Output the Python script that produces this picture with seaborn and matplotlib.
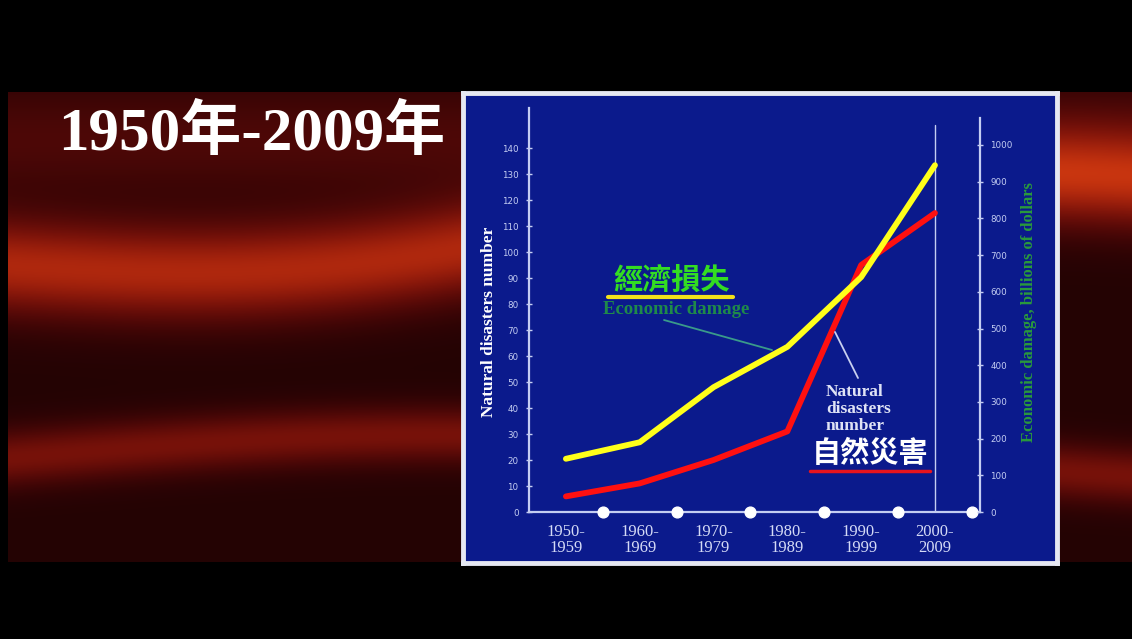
import numpy as np
import pandas as pd
import seaborn as sns
import matplotlib.pyplot as plt

# data
decades = ['1950-\n1959', '1960-\n1969', '1970-\n1979', '1980-\n1989', '1990-\n1999', '2000-\n2009']
disasters = [6, 11, 20, 31, 95, 115]          # left axis, number of natural disasters
damage = [145, 190, 340, 450, 640, 945]       # right axis, billions of dollars
left_ticks = list(range(0, 150, 10))
right_ticks = list(range(0, 1100, 100))

BLUE = '#0b1a8c'
AXC = '#c4cdf2'
W, H = 1132, 639


def fx(px):
    return px / W


def fy(py):
    return 1 - py / H


sns.set_style('white')
plt.rcParams['font.family'] = ['Liberation Serif', 'Noto Sans CJK TC', 'DejaVu Sans']

fig = plt.figure(figsize=(11.32, 6.39), dpi=100)
fig.patch.set_facecolor('black')

# dark red swirl background
bg = fig.add_axes([fx(8), fy(562), fx(1124), 470 / H])
yy, xx = np.mgrid[0:1:300j, 0:1:600j]
c1 = 0.37 - 0.17 * xx + 0.05 * np.sin(6 * xx)
c2 = 0.78 - 0.05 * np.sin(4 * xx)
inten = 0.1 + 0.75 * np.exp(-((yy - c1) / 0.1) ** 2) + 0.45 * np.exp(-((yy - c2) / 0.06) ** 2)
inten += 0.22 * np.exp(-((yy - 0.1) / 0.12) ** 2)
inten = np.clip(inten, 0, 1)
img = np.dstack([0.07 + 0.72 * inten, 0.01 + 0.2 * inten ** 2, 0.01 + 0.05 * inten])
bg.imshow(np.clip(img, 0, 1), aspect='auto', extent=[0, 1, 0, 1])
bg.axis('off')

# chart panel
panel = fig.add_axes([fx(463), fy(563), 594 / W, 470 / H])
panel.set_facecolor(BLUE)
panel.set_xticks([])
panel.set_yticks([])
for s in panel.spines.values():
    s.set_color('#e6e8f2')
    s.set_linewidth(3.5)

# title
fig.text(fx(58), fy(134), '1950年-2009年', color='white', fontsize=44, fontweight='bold',
         va='center', ha='left')

ax = fig.add_axes([fx(529), fy(512), fx(980 - 529), (512 - 108) / H])
ax.set_facecolor('none')
ax2 = ax.twinx()
ax2.set_facecolor('none')

x = list(range(len(decades)))
df = pd.DataFrame({'decade': x, 'disasters': disasters, 'damage': damage})

sns.lineplot(data=df, x='decade', y='disasters', ax=ax, color='#ff1010', lw=4.2,
             solid_capstyle='round', zorder=3)
sns.lineplot(data=df, x='decade', y='damage', ax=ax2, color='#ffff1a', lw=4.2,
             solid_capstyle='round', zorder=4)

ax.set_xlim(-0.5, 5.61)
ax.set_ylim(0, (512 - 108) / 2.6)
ax2.set_ylim(0, (512 - 108) / 0.367)

for a in (ax, ax2):
    for s in a.spines.values():
        s.set_color(AXC)
        s.set_linewidth(1.6)
    a.spines['top'].set_visible(False)
    a.set_xlabel('')
    a.set_ylabel('')
ax.spines['right'].set_visible(False)
ax2.spines['left'].set_visible(False)
ax2.spines['bottom'].set_visible(False)
ax2.spines['right'].set_bounds(0, (512 - 118) / 0.367)

ax.set_yticks(left_ticks)
ax.set_yticklabels([str(v) for v in left_ticks])
ax2.set_yticks(right_ticks)
ax2.set_yticklabels([str(v) for v in right_ticks])
ax.tick_params(axis='y', direction='inout', length=5, width=1, color=AXC, labelcolor=AXC,
               labelsize=6.3, pad=5)
ax2.tick_params(axis='y', direction='inout', length=5, width=1, color=AXC, labelcolor=AXC,
                labelsize=6.3, pad=5)
for lab in ax.get_yticklabels() + ax2.get_yticklabels():
    lab.set_family('DejaVu Sans')

ax.set_xticks(x)
ax.set_xticklabels(decades, linespacing=0.95)
ax.tick_params(axis='x', length=0, labelcolor='#d4daf6', labelsize=12, pad=9)

# vertical marker at last decade and white dots between decades
ax.plot([5, 5], [0, (512 - 125) / 2.6], color=AXC, lw=1, zorder=2)
ax.scatter([i + 0.5 for i in x], [0] * len(x), s=60, color='white', zorder=5, clip_on=False)

ax.set_ylabel('Natural disasters number', color='white', fontsize=12.5, fontweight='bold')
ax.yaxis.set_label_coords(-0.071, 0.47)
ax2.set_ylabel('Economic damage, billions of dollars', color='#2a9a3c', fontsize=12,
               fontweight='bold')
ax2.yaxis.set_label_coords(1.09, 0.495)

# annotations
fig.text(fx(671), fy(281), '經濟損失', color='#33dd22', fontsize=21, fontweight='bold',
         ha='center', va='center')
fig.add_artist(plt.Line2D([fx(608), fx(733)], [fy(297), fy(297)], color='#f2e21a', lw=3))
fig.text(fx(676), fy(309), 'Economic damage', color='#1f8a4a', fontsize=13.5, fontweight='bold',
         ha='center', va='center')
fig.add_artist(plt.Line2D([fx(664), fx(772)], [fy(320), fy(350)], color='#3a9a8a', lw=1.3))

fig.text(fx(826), fy(409), 'Natural\ndisasters\nnumber', color='#dfe3f5', fontsize=12.5,
         fontweight='bold', ha='left', va='center', linespacing=1.05, multialignment='left')
fig.add_artist(plt.Line2D([fx(835), fx(858)], [fy(332), fy(378)], color='#c8d0f0', lw=1.3))
fig.text(fx(870), fy(454), '自然災害', color='white', fontsize=21, fontweight='bold',
         ha='center', va='center')
fig.add_artist(plt.Line2D([fx(810), fx(930)], [fy(471), fy(471)], color='#e8141e', lw=2.5))

fig.savefig('out.png', dpi=100, facecolor=fig.get_facecolor())
